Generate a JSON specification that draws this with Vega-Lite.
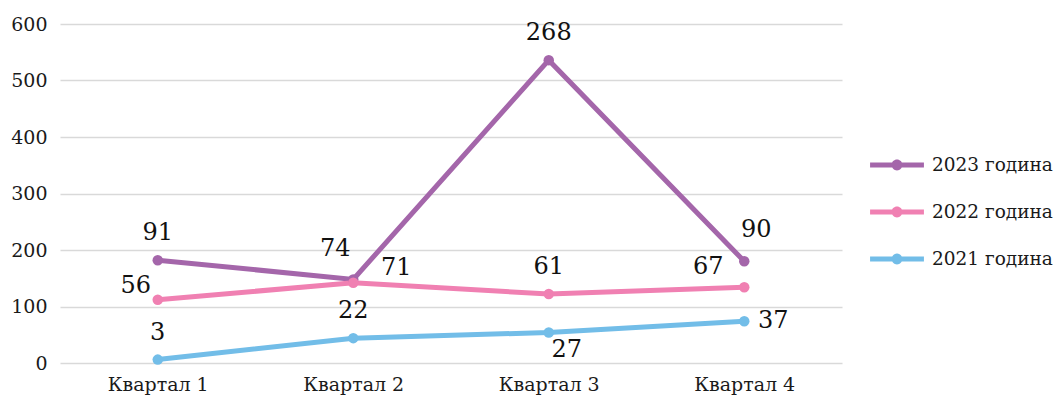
{
  "$schema": "https://vega.github.io/schema/vega-lite/v6.json",
  "autosize": {"type": "none"},
  "width": 782,
  "height": 339,
  "padding": {"left": 60, "top": 24, "right": 220, "bottom": 40},
  "background": "white",
  "config": {
    "view": {"stroke": null},
    "font": "DejaVu Serif",
    "axis": {"labelFont": "DejaVu Serif", "labelColor": "#1a1a1a", "titleFont": "DejaVu Serif"},
    "text": {"font": "DejaVu Serif"}
  },
  "data": {"values": [
    {"q": "Квартал 1", "s": "2023 година", "v": 182, "lab": 91},
    {"q": "Квартал 2", "s": "2023 година", "v": 148, "lab": 74},
    {"q": "Квартал 3", "s": "2023 година", "v": 536, "lab": 268},
    {"q": "Квартал 4", "s": "2023 година", "v": 180, "lab": 90},
    {"q": "Квартал 1", "s": "2022 година", "v": 112, "lab": 56},
    {"q": "Квартал 2", "s": "2022 година", "v": 142, "lab": 71},
    {"q": "Квартал 3", "s": "2022 година", "v": 122, "lab": 61},
    {"q": "Квартал 4", "s": "2022 година", "v": 134, "lab": 67},
    {"q": "Квартал 1", "s": "2021 година", "v": 6, "lab": 3},
    {"q": "Квартал 2", "s": "2021 година", "v": 44, "lab": 22},
    {"q": "Квартал 3", "s": "2021 година", "v": 54, "lab": 27},
    {"q": "Квартал 4", "s": "2021 година", "v": 74, "lab": 37}
  ]},
  "encoding": {
    "x": {"field": "q", "type": "nominal", "title": null,
      "scale": {"paddingInner": 0, "paddingOuter": 0.5},
      "axis": {"labelAngle": 0, "domain": false, "ticks": false, "labelFontSize": 19, "labelPadding": 12, "grid": false}},
    "y": {"field": "v", "type": "quantitative", "title": null,
      "scale": {"domain": [0, 600], "nice": false},
      "axis": {"values": [0, 100, 200, 300, 400, 500, 600], "domain": false, "ticks": false, "labelFontSize": 19, "labelPadding": 13, "gridColor": "#d9d9d9", "gridWidth": 1.5}}
  },
  "layer": [
    {
      "mark": {"type": "line", "strokeWidth": 5, "strokeCap": "round"},
      "encoding": {
        "color": {"field": "s", "type": "nominal", "title": null,
          "scale": {"domain": ["2023 година", "2022 година", "2021 година"], "range": ["#a466aa", "#f080b2", "#72bde8"]},
          "legend": {
            "orient": "none", "legendX": 810, "legendY": 114,
            "symbolType": "M-1,-0.09H1V0.09H-1Z M0.2,0A0.2,0.2,0,1,1,-0.2,0A0.2,0.2,0,1,1,0.2,0Z",
            "symbolSize": 2900, "symbolStrokeWidth": 0,
            "labelFontSize": 18.5, "labelFont": "DejaVu Serif", "labelColor": "#1a1a1a", "labelOffset": 8,
            "rowPadding": 10,
            "encode": {"symbols": {"update": {"fill": {"scale": "color", "field": "value"}, "strokeWidth": {"value": 0}}}}
          }
        }
      }
    },
    {
      "mark": {"type": "point", "filled": true, "size": 110, "opacity": 1},
      "encoding": {"color": {"field": "s", "type": "nominal", "legend": null}}
    },
    {
      "transform": [{"filter": "(datum.s=='2023 година' && (datum.q=='Квартал 1' || datum.q=='Квартал 3')) || (datum.s=='2022 година' && datum.q=='Квартал 3') || (datum.s=='2021 година' && (datum.q=='Квартал 1' || datum.q=='Квартал 2'))"}],
      "mark": {"type": "text", "fontSize": 24, "dy": -27, "baseline": "middle", "color": "#111"},
      "encoding": {"text": {"field": "lab"}}
    },
    {
      "transform": [{"filter": "datum.s=='2023 година' && datum.q=='Квартал 2'"}],
      "mark": {"type": "text", "fontSize": 24, "dx": -18, "dy": -30, "baseline": "middle", "color": "#111"},
      "encoding": {"text": {"field": "lab"}}
    },
    {
      "transform": [{"filter": "datum.s=='2023 година' && datum.q=='Квартал 4'"}],
      "mark": {"type": "text", "fontSize": 24, "dx": 12, "dy": -31, "baseline": "middle", "color": "#111"},
      "encoding": {"text": {"field": "lab"}}
    },
    {
      "transform": [{"filter": "datum.s=='2022 година' && datum.q=='Квартал 1'"}],
      "mark": {"type": "text", "fontSize": 24, "dx": -22, "dy": -14, "baseline": "middle", "color": "#111"},
      "encoding": {"text": {"field": "lab"}}
    },
    {
      "transform": [{"filter": "datum.s=='2022 година' && datum.q=='Квартал 2'"}],
      "mark": {"type": "text", "fontSize": 24, "dx": 43, "dy": -15, "baseline": "middle", "color": "#111"},
      "encoding": {"text": {"field": "lab"}}
    },
    {
      "transform": [{"filter": "datum.s=='2022 година' && datum.q=='Квартал 4'"}],
      "mark": {"type": "text", "fontSize": 24, "dx": -36, "dy": -20, "baseline": "middle", "color": "#111"},
      "encoding": {"text": {"field": "lab"}}
    },
    {
      "transform": [{"filter": "datum.s=='2021 година' && datum.q=='Квартал 3'"}],
      "mark": {"type": "text", "fontSize": 24, "dx": 18, "dy": 18, "baseline": "middle", "color": "#111"},
      "encoding": {"text": {"field": "lab"}}
    },
    {
      "transform": [{"filter": "datum.s=='2021 година' && datum.q=='Квартал 4'"}],
      "mark": {"type": "text", "fontSize": 24, "dx": 29, "dy": 0, "baseline": "middle", "color": "#111"},
      "encoding": {"text": {"field": "lab"}}
    }
  ]
}
